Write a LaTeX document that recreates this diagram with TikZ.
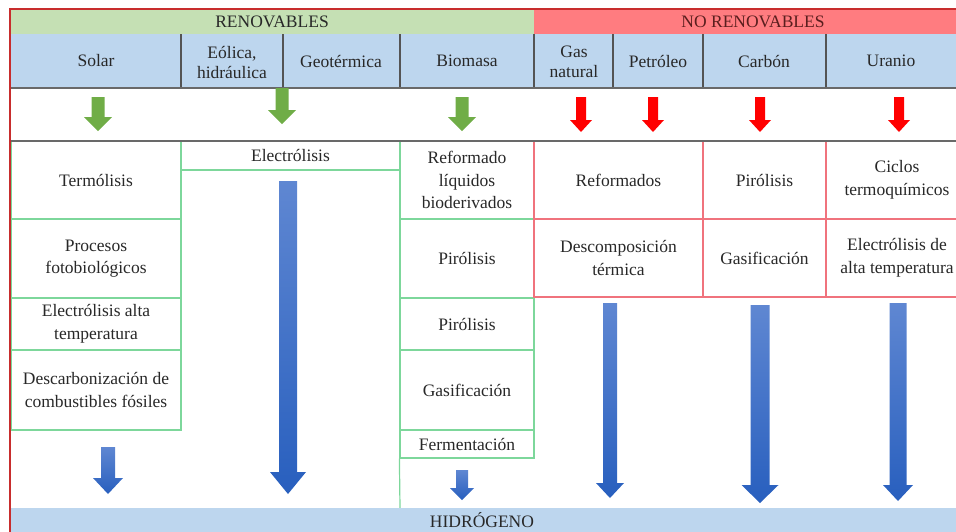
\documentclass[tikz,border=0pt]{standalone}
\usepackage{fontspec}
\setmainfont{Liberation Serif}
\definecolor{hdrgreen}{RGB}{197,224,180}
\definecolor{hdrred}{RGB}{255,124,128}
\definecolor{rowblue}{RGB}{189,214,238}
\definecolor{boxgreen}{RGB}{125,215,155}
\definecolor{boxred}{RGB}{240,115,125}
\definecolor{framered}{RGB}{200,45,45}
\definecolor{sepgray}{RGB}{105,105,105}
\definecolor{arrgreen}{RGB}{112,173,71}
\definecolor{arrred}{RGB}{255,0,0}
\definecolor{bluetop}{RGB}{95,135,210}
\definecolor{bluebot}{RGB}{40,95,190}
\definecolor{txt}{RGB}{40,40,40}
\definecolor{txtred}{RGB}{90,30,30}
\newcommand\blockarrow[7]{%
  \path[#7] (#1-#4,#2) -- (#1+#4,#2) -- (#1+#4,#3-#6) -- (#1+#5,#3-#6) -- (#1,#3)
    -- (#1-#5,#3-#6) -- (#1-#4,#3-#6) -- cycle;}
\tikzset{
  lbl/.style={text=txt, font=\fontsize{17.5}{22.5}\selectfont, align=center, inner sep=0pt},
  gbox/.style={lbl, draw=boxgreen, line width=1.2pt},
  rbox/.style={lbl, draw=boxred, line width=1.2pt},
  garrow/.style={fill=arrgreen},
  rarrow/.style={fill=arrred},
  barrow/.style={top color=bluetop, bottom color=bluebot},
  sep/.style={draw=sepgray, line width=1.8pt},
  div/.style={draw=sepgray!80!black, line width=1.3pt}
}
\begin{document}
\begin{tikzpicture}[x=1pt,y=-1pt]
\useasboundingbox (0,0) rectangle (956,531);
\clip (0,0) rectangle (956,531);
% header bands
\fill[hdrgreen] (11,9) rectangle (534,34);
\fill[hdrred] (534,9) rectangle (970,34);
\fill[rowblue] (11,34) rectangle (970,88);
\node[lbl] (ren) at (272,22) {RENOVABLES};
\node[lbl, text=txtred] (noren) at (753,22) {NO RENOVABLES};
% source row
\node[lbl] (solar) at (96,61) {Solar};
\node[lbl, font=\fontsize{17.5}{20}\selectfont] (eol) at (232,62) {Eólica,\\hidráulica};
\node[lbl] (geo) at (341,61) {Geotérmica};
\node[lbl] (bio) at (467,61) {Biomasa};
\node[lbl, font=\fontsize{17.5}{20}\selectfont] (gas) at (574,62) {Gas\\natural};
\node[lbl] (petro) at (658,61) {Petróleo};
\node[lbl] (carbon) at (764,61) {Carbón};
\node[lbl] (uranio) at (891,61) {Uranio};
\foreach \xx in {181,283,400,534,613,703,826} \draw[div] (\xx,34) -- (\xx,88);
% green process boxes
\node[gbox, minimum width=170pt, minimum height=78pt] (termo) at (96,180) {Termólisis};
\node[gbox, minimum width=170pt, minimum height=79pt] (foto) at (96,258.5) {Procesos\\fotobiológicos};
\node[gbox, minimum width=170pt, minimum height=52pt] (elalta) at (96,324) {Electrólisis alta\\temperatura};
\node[gbox, minimum width=170pt, minimum height=80pt] (descarb) at (96,390) {Descarbonización de\\combustibles fósiles};
\node[gbox, minimum width=219pt, minimum height=29pt] (electro) at (290.5,155.5) {Electrólisis};
\node[gbox, minimum width=134pt, minimum height=78pt] (reform) at (467,180) {Reformado\\líquidos\\bioderivados};
\node[gbox, minimum width=134pt, minimum height=79pt] (piroa) at (467,258.5) {Pirólisis};
\node[gbox, minimum width=134pt, minimum height=52pt] (pirob) at (467,324) {Pirólisis};
\node[gbox, minimum width=134pt, minimum height=80pt] (gasifb) at (467,390) {Gasificación};
\node[gbox, minimum width=134pt, minimum height=28pt] (ferm) at (467,444) {Fermentación};
\coordinate (bioend) at (400,508);
\draw[boxgreen, line width=1.2pt] (ferm.south west) -- (bioend);
% red process boxes
\node[rbox, minimum width=169pt, minimum height=78pt] (reformados) at (618.5,180) {Reformados};
\node[rbox, minimum width=169pt, minimum height=78pt] (descomp) at (618.5,258) {Descomposición\\térmica};
\node[rbox, minimum width=123pt, minimum height=78pt] (piroc) at (764.5,180) {Pirólisis};
\node[rbox, minimum width=123pt, minimum height=78pt] (gasifc) at (764.5,258) {Gasificación};
\node[rbox, minimum width=142pt, minimum height=78pt] (ciclos) at (897,180) {Ciclos\\termoquímicos};
\node[rbox, minimum width=142pt, minimum height=78pt] (elaltb) at (897,258) {Electrólisis de\\alta temperatura};
% separators
\draw[sep] (11,88) -- (970,88);
\draw[sep] (11,141) -- (970,141);
% arrows from sources
\blockarrow{98}{97}{131}{6.5}{14}{14}{garrow}
\blockarrow{282}{88}{124}{6.5}{14}{14}{garrow}
\blockarrow{462}{97}{131}{6.5}{14}{14}{garrow}
\blockarrow{581}{97}{132}{5}{11}{12}{rarrow}
\blockarrow{653}{97}{132}{5}{11}{12}{rarrow}
\blockarrow{760}{97}{132}{5}{11}{12}{rarrow}
\blockarrow{899}{97}{132}{5}{11}{12}{rarrow}
% blue arrows to hydrogen
\blockarrow{108}{447}{494}{7}{15}{16}{barrow}
\blockarrow{288}{181}{494}{9}{18}{22}{barrow}
\blockarrow{462}{470}{500}{6}{12}{12}{barrow}
\blockarrow{610}{303}{498}{7}{14}{15}{barrow}
\blockarrow{760}{305}{503}{9.5}{18.5}{18}{barrow}
\blockarrow{898}{303}{501}{8.5}{15}{16}{barrow}
% hydrogen bar
\fill[rowblue] (11,508) rectangle (970,545);
\node[lbl, anchor=base] (hidro) at (482,527) {HIDRÓGENO};
% outer frame
\draw[framered, line width=2.5pt] (970,9) -- (10,9) -- (10,545);
\end{tikzpicture}
\end{document}
